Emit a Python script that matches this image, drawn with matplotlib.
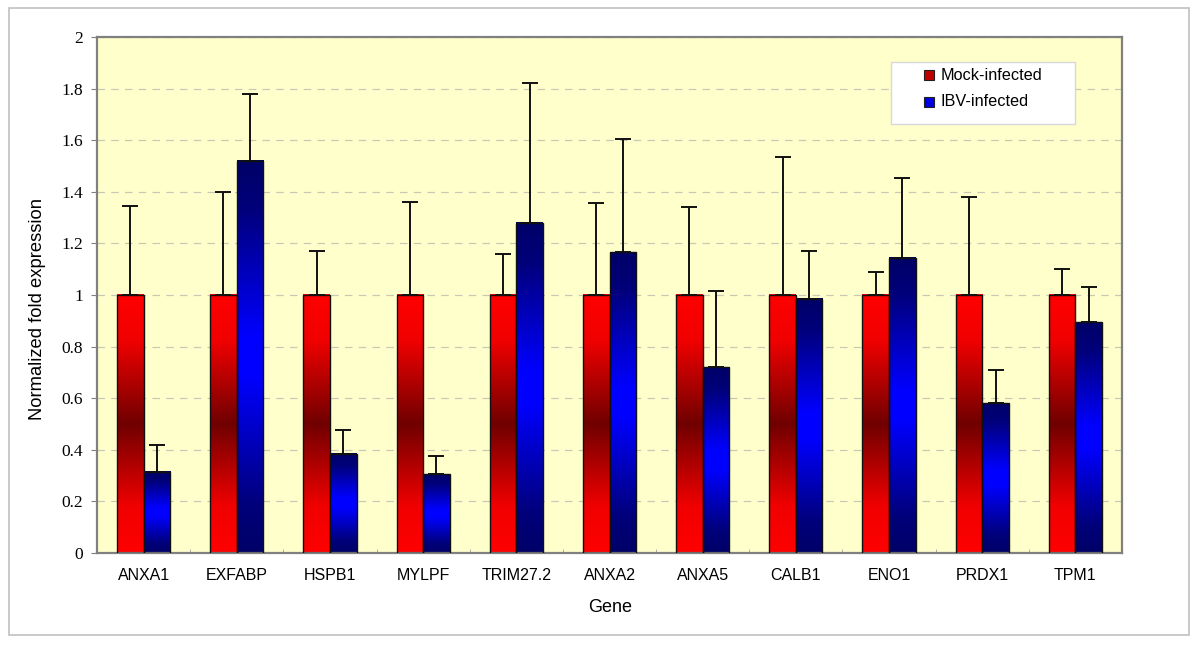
import matplotlib
matplotlib.use('Agg')
import matplotlib.pyplot as plt
import numpy as np
from matplotlib.colors import LinearSegmentedColormap
from matplotlib.patches import Rectangle

genes = ['ANXA1', 'EXFABP', 'HSPB1', 'MYLPF', 'TRIM27.2', 'ANXA2', 'ANXA5',
         'CALB1', 'ENO1', 'PRDX1', 'TPM1']
mock = [1.0] * 11
mock_top = [1.345, 1.40, 1.17, 1.36, 1.16, 1.355, 1.34, 1.535, 1.09, 1.38, 1.10]
ibv = [0.315, 1.52, 0.385, 0.305, 1.28, 1.165, 0.72, 0.985, 1.145, 0.58, 0.895]
ibv_top = [0.42, 1.78, 0.475, 0.375, 1.82, 1.605, 1.015, 1.17, 1.455, 0.71, 1.03]
ytick_labels = ['0', '0.2', '0.4', '0.6', '0.8', '1', '1.2', '1.4', '1.6', '1.8', '2']
legend_labels = ['Mock-infected', 'IBV-infected']

W, H = 1200, 645
fig = plt.figure(figsize=(W / 100, H / 100), dpi=100)
fig.patch.set_facecolor('white')

# light grey outer border
fig.patches.append(Rectangle((9 / W, 1 - 635 / H), (1189 - 9) / W, (635 - 8) / H,
                             transform=fig.transFigure, fill=False,
                             edgecolor='#c0c0c0', linewidth=1.2))

ax = fig.add_axes([97 / W, 1 - 553 / H, (1122 - 97) / W, (553 - 37) / H])
ax.set_facecolor('#ffffcc')

red_cmap = LinearSegmentedColormap.from_list(
    'red', [(0, '#ff0000'), (0.18, '#f00000'), (0.5, '#700000'), (0.82, '#f00000'), (1, '#ff0000')])
blue_cmap = LinearSegmentedColormap.from_list(
    'blue', [(0, '#000068'), (0.12, '#00007a'), (0.45, '#0000ff'), (0.55, '#0000ff'),
             (0.88, '#00007a'), (1, '#000068')])
grad = np.linspace(0, 1, 256)[:, None]

x = np.arange(len(genes))
bw = 0.285


def gradient_bars(xs, heights, tops, cmap, offset):
    for xi, h, t in zip(xs, heights, tops):
        x0 = xi + offset
        ax.imshow(grad, extent=[x0, x0 + bw, 0, h], origin='lower', cmap=cmap,
                  aspect='auto', zorder=2, interpolation='bilinear')
        ax.add_patch(Rectangle((x0, 0), bw, h, facecolor='none', edgecolor='#101010',
                               linewidth=1.0, zorder=3))
        ax.errorbar(x0 + bw / 2, h, yerr=[[0], [t - h]], fmt='none', ecolor='#101010',
                    elinewidth=1.4, capsize=6, capthick=1.4, zorder=4)


gradient_bars(x, mock, mock_top, red_cmap, -bw)
gradient_bars(x, ibv, ibv_top, blue_cmap, 0)

ax.set_xlim(-0.5, len(genes) - 0.5)
ax.set_ylim(0, 2)
ax.set_yticks(np.arange(0, 2.01, 0.2))
ax.set_yticklabels(ytick_labels)
ax.yaxis.grid(True, linestyle=(0, (6, 5)), color='#c8c8b4', linewidth=0.9, zorder=1)
ax.set_axisbelow(True)

ax.set_xticks(x)
ax.set_xticklabels(genes)
ax.set_xticks(np.arange(-0.5, len(genes), 1), minor=True)
ax.tick_params(axis='x', which='major', length=0, pad=11)
ax.tick_params(axis='x', which='minor', direction='in', length=3, color='#a0a0a0')
ax.tick_params(axis='y', length=4, color='#808080', pad=6)

for lab in ax.get_yticklabels():
    lab.set_fontfamily('Liberation Serif')
    lab.set_fontsize(12.5)
for lab in ax.get_xticklabels():
    lab.set_fontfamily('Liberation Sans')
    lab.set_fontsize(11.5)

for s in ax.spines.values():
    s.set_color('#808080')
    s.set_linewidth(1.6)

fig.text(610 / W, 1 - 607 / H, 'Gene', ha='center', va='center',
         family='Liberation Sans', fontsize=13)
fig.text(38 / W, 1 - 309 / H, 'Normalized fold expression', ha='center', va='center',
         rotation=90, family='Liberation Sans', fontsize=13.2)

# legend box
fig.patches.append(Rectangle((891 / W, 1 - 124 / H), (1075 - 891) / W, (124 - 62) / H,
                             transform=fig.transFigure, facecolor='white',
                             edgecolor='#d8d8d8', linewidth=1.0, zorder=5))
for i, (lab, col) in enumerate(zip(legend_labels, ['#c00000', '#0000e0'])):
    cy = 75 + 27 * i
    fig.patches.append(Rectangle((924 / W, 1 - (cy + 5) / H), 10 / W, 10 / H,
                                 transform=fig.transFigure, facecolor=col,
                                 edgecolor='#202020', linewidth=0.8, zorder=6))
    fig.text(941 / W, 1 - cy / H, lab, ha='left', va='center',
             family='Liberation Sans', fontsize=11.7, zorder=6)

fig.savefig('out.png', dpi=100)
